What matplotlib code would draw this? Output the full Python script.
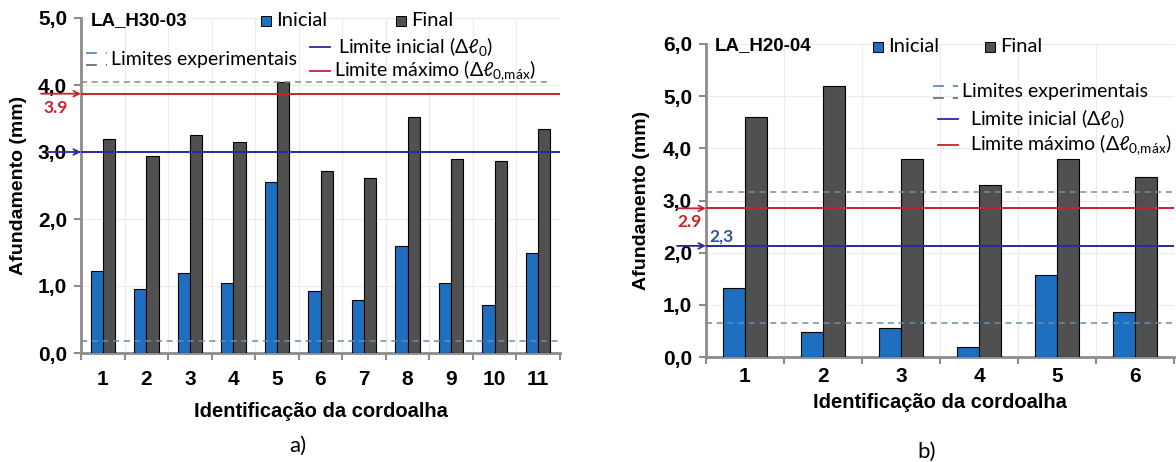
import matplotlib
matplotlib.use("Agg")
import matplotlib.pyplot as plt
from matplotlib.lines import Line2D
from matplotlib.patches import Rectangle
import numpy as np

# %% data
cats_a = ["1", "2", "3", "4", "5", "6", "7", "8", "9", "10", "11"]
inicial_a = [1.23, 0.95, 1.19, 1.04, 2.55, 0.93, 0.79, 1.60, 1.04, 0.72, 1.49]
final_a = [3.19, 2.94, 3.25, 3.15, 4.04, 2.72, 2.61, 3.52, 2.90, 2.87, 3.35]
lim_exp_a = [0.18, 4.05]
lim_ini_a = 3.0
lim_max_a = 3.87

cats_b = ["1", "2", "3", "4", "5", "6"]
inicial_b = [1.33, 0.48, 0.55, 0.20, 1.58, 0.87]
final_b = [4.60, 5.19, 3.79, 3.30, 3.80, 3.45]
lim_exp_b = [0.65, 3.17]
lim_ini_b = 2.13
lim_max_b = 2.85

# %% style
W, H = 1176, 462
C_INI = "#1f6fc1"
C_FIN = "#505050"
C_BLUE = "#2a2a9c"
C_RED = "#c8232b"
C_SPINE = "#8c8c8c"
C_GRID = "#ececec"
BOLD = dict(family=["Liberation Sans", "DejaVu Sans"], weight="bold")
LEG = ["Lato", "DejaVu Sans"]

plt.rcParams["mathtext.fontset"] = "custom"
plt.rcParams["mathtext.rm"] = "Lato"
plt.rcParams["mathtext.it"] = "Lato:italic"

fig = plt.figure(figsize=(W / 100, H / 100), dpi=100)


def fx(x):
    return x / W


def fy(y):
    return 1 - y / H


def make_axes(x0, x1, ytop, ybot):
    return fig.add_axes([fx(x0), fy(ybot), fx(x1 - x0), (ybot - ytop) / H])


def draw_panel(ax, cats, ini, fin, exp, lini, lmax, ymax, exp_xmax, xpad):
    x = np.arange(len(cats))
    w = 0.28
    ax.bar(x - w / 2, ini, w, color=C_INI, edgecolor="black", linewidth=0.8, zorder=3)
    ax.bar(x + w / 2, fin, w, color=C_FIN, edgecolor="black", linewidth=0.8, zorder=3)
    ax.set_xlim(-0.5, len(cats) - 0.5)
    ax.set_ylim(0, ymax)
    yt = np.arange(0, ymax + 0.01, 1.0)
    ax.set_yticks(yt)
    ax.set_yticklabels([f"{v:.1f}".replace(".", ",") for v in yt], fontsize=15, **BOLD)
    ax.set_xticks(x)
    ax.set_xticklabels(cats, fontsize=15, **BOLD)
    ax.set_xticks(np.arange(-0.5, len(cats), 1.0), minor=True)
    ax.tick_params(axis="x", which="major", length=0, pad=xpad)
    ax.tick_params(axis="x", which="minor", length=5, width=1.5, color=C_SPINE, direction="out")
    ax.tick_params(axis="y", length=5, width=1.5, color=C_SPINE, pad=5)
    for s in ["top", "right"]:
        ax.spines[s].set_visible(False)
    for s in ["left", "bottom"]:
        ax.spines[s].set_color(C_SPINE)
        ax.spines[s].set_linewidth(2)
    ax.grid(axis="y", color=C_GRID, linewidth=0.8, zorder=0)
    ax.grid(axis="x", which="minor", color=C_GRID, linewidth=0.8, zorder=0)
    ax.axhline(exp[0], color="#6a8cae", linestyle=(0, (4, 3)), linewidth=1.1, zorder=4)
    ax.axhline(exp[1], color="#8a8a8a", linestyle=(0, (4, 3)), linewidth=1.1, zorder=4,
               xmax=exp_xmax)
    ax.axhline(lini, color=C_BLUE, linewidth=1.4, zorder=4)
    ax.axhline(lmax, color=C_RED, linewidth=1.4, zorder=4)
    ax.set_xlabel("Identificação da cordoalha", fontsize=14.5, **BOLD)
    ax.set_ylabel("Afundamento (mm)", fontsize=14, **BOLD)


def arrow(ax, yv, color, dx):
    ax.annotate("", xy=(0, yv), xycoords=("axes fraction", "data"),
                xytext=(-dx, 0), textcoords="offset pixels",
                arrowprops=dict(arrowstyle="->", color=color, lw=1.3,
                                shrinkA=0, shrinkB=0),
                annotation_clip=False)


def legend_block(sq1, sq2, yl, exp_x, exp_y, line_x, line_y, txt_x):
    # Inicial / Final squares
    for (xs, lab, col) in [(sq1, "Inicial", C_INI), (sq2, "Final", C_FIN)]:
        fig.patches.append(Rectangle((fx(xs), fy(yl + 5)), fx(10), 10 / H,
                                     transform=fig.transFigure, facecolor=col,
                                     edgecolor="black", linewidth=0.7))
        fig.text(fx(xs + 15), fy(yl), lab, fontsize=14.5, family=LEG, va="center", ha="left")
    # experimental limits sample
    for dy, col in [(0, "#5f8db5"), (12, "#707070")]:
        fig.add_artist(Line2D([fx(exp_x[0]), fx(exp_x[1])], [fy(exp_y + dy)] * 2,
                              color=col, linestyle=(0, (6, 5)), linewidth=1.3))
    fig.text(fx(exp_x[1] + 4), fy(exp_y + 6), "Limites experimentais", fontsize=14,
             family=LEG, va="center", ha="left")
    fig.add_artist(Line2D([fx(line_x[0]), fx(line_x[1])], [fy(line_y[0])] * 2,
                          color=C_BLUE, linewidth=1.3))
    fig.add_artist(Line2D([fx(line_x[0]), fx(line_x[1])], [fy(line_y[1])] * 2,
                          color=C_RED, linewidth=1.3))
    fig.text(fx(txt_x[0]), fy(line_y[0] - 1), r"Limite inicial (Δℓ$_{0}$)", fontsize=14,
             family=LEG, va="center", ha="left")
    fig.text(fx(txt_x[1]), fy(line_y[1]), r"Limite máximo (Δℓ$_{0{,}\mathrm{máx}}$)", fontsize=14,
             family=LEG, va="center", ha="left")


# %% panel a
ax1 = make_axes(81, 560, 18, 353)
draw_panel(ax1, cats_a, inicial_a, final_a, lim_exp_a, lim_ini_a, lim_max_a, 5.0, 0.98, 12)
ax1.xaxis.set_label_coords(0.5, -0.145)
ax1.yaxis.set_label_coords(-0.113, 0.5)
arrow(ax1, lim_max_a, C_RED, 40)
arrow(ax1, lim_ini_a, C_BLUE, 33)
fig.text(fx(56), fy(108), "3.9", color=C_RED, fontsize=12.5, family=LEG, weight="bold",
         ha="center", va="center")
fig.text(fx(91), fy(21), "LA_H30-03", fontsize=13.5, ha="left", va="center", **BOLD)
legend_block(261, 396, 21, (86, 107), 53, (310, 330), (47, 71), (338, 334))
fig.text(fx(298), fy(446), "a)", fontsize=16, family=LEG, ha="center", va="center")

# %% panel b
ax2 = make_axes(706, 1174, 44, 357)
draw_panel(ax2, cats_b, inicial_b, final_b, lim_exp_b, lim_ini_b, lim_max_b, 6.0, 1.0, 7)
ax2.xaxis.set_label_coords(0.5, -0.115)
ax2.yaxis.set_label_coords(-0.12, 0.5)
arrow(ax2, lim_max_b, C_RED, 28)
arrow(ax2, lim_ini_b, C_BLUE, 29)
fig.text(fx(690), fy(222), "2.9", color=C_RED, fontsize=12.5, family=LEG, weight="bold",
         ha="center", va="center")
fig.text(fx(722), fy(237), "2,3", color="#2f5597", fontsize=12.5, family=LEG, weight="bold",
         ha="center", va="center")
fig.text(fx(715), fy(46), "LA_H20-04", fontsize=13.5, ha="left", va="center", **BOLD)
legend_block(873, 985, 47, (933, 958), 86, (938, 958), (119, 145), (970, 970))
fig.text(fx(927), fy(452), "b)", fontsize=16, family=LEG, ha="center", va="center")

plt.savefig("out.png", dpi=100)
